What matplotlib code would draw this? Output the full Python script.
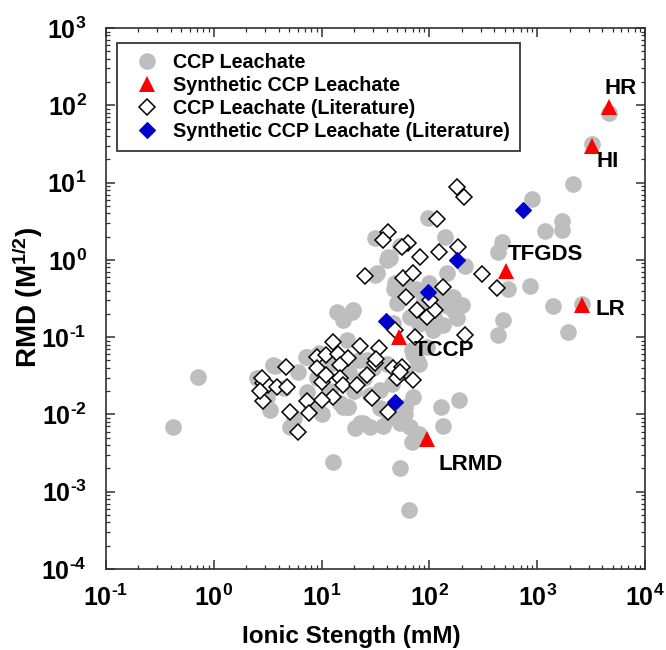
import matplotlib
matplotlib.use("Agg")
import matplotlib.pyplot as plt
from matplotlib.ticker import LogLocator, FuncFormatter, NullFormatter
import numpy as np

# ---------------- data ----------------
# CCP Leachate (grey circles): ionic strength (mM), RMD
ccp_x = [4670, 3245, 2162, 889, 1687, 1687, 1181, 469, 436, 857, 540, 1410, 2620, 1944,
         485, 436, 212, 145, 97.7, 140, 31.3, 43.1, 32.5, 49.8, 167, 199, 179, 135, 109,
         49.8, 66, 19.7, 94.4, 46.3, 53.8, 41.6, 48, 13.8, 19.0, 15.9, 17.1, 7.27, 3.56,
         2.5, 3.1, 3.32, 5.09, 7.27, 14.8, 17.7, 22.7, 28.1, 53.4, 66, 59.4, 71, 26.2,
         34.8, 76, 68.5, 0.718, 0.421, 12.7, 53, 64.4, 69.2, 135, 128, 190, 80, 37.5,
         24.3, 20.3, 15.7, 17.6, 60, 3.72, 7.12, 9.5, 120, 150, 170, 110, 130, 90, 75,
         60, 80, 100, 40.3, 31.3, 46.5, 12, 18, 25, 30, 22, 40, 45, 60, 70, 80, 28, 20,
         12, 9, 6, 4.5, 8, 10, 35, 42, 50, 2.9, 5.5]
ccp_y = [78.7, 31.7, 9.6, 6.14, 3.21, 2.44, 2.39, 1.72, 1.28, 0.459, 0.416, 0.253, 0.27,
         0.118, 0.167, 0.107, 0.84, 0.67, 3.45, 2.0, 1.90, 1.05, 0.67, 0.408, 0.334,
         0.261, 0.175, 0.144, 0.124, 0.274, 0.184, 0.225, 0.075, 0.151, 1.51, 1.10,
         0.498, 0.214, 0.214, 0.167, 0.092, 0.056, 0.0437, 0.0294, 0.017, 0.0114,
         0.00695, 0.0197, 0.014, 0.0126, 0.00767, 0.00695, 0.00767, 0.00695, 0.0126,
         0.017, 0.0507, 0.0207, 0.0507, 0.068, 0.0308, 0.00683, 0.00242, 0.00202,
         0.000575, 0.00435, 0.00702, 0.0126, 0.0156, 0.00566, 0.00702, 0.0078, 0.00665,
         0.0126, 0.0126, 0.0102, 0.0428, 0.0558, 0.062, 0.30, 0.25, 0.22, 0.18, 0.40,
         0.30, 0.42, 0.55, 0.15, 0.50, 0.986, 0.646, 0.42, 0.045, 0.035, 0.03, 0.04,
         0.05, 0.045, 0.025, 0.035, 0.06, 0.045, 0.018, 0.02, 0.02, 0.03, 0.035, 0.022,
         0.012, 0.01, 0.012, 0.009, 0.012, 0.02, 0.009]

# Synthetic CCP Leachate (red triangles)
syn_names = ["HR", "HI", "TFGDS", "LR", "TCCP", "LRMD"]
syn_x = [4670, 3245, 510, 2620, 52, 95.8]
syn_y = [94, 29.7, 0.724, 0.261, 0.10, 0.0048]
# label anchor positions (data units)
lab_x = [6000, 4510, 1181, 4810, 137, 241]
lab_y = [165, 18.6, 1.19, 0.225, 0.068, 0.00224]

# CCP Leachate (Literature) (open diamonds)
lit_x = [179, 209, 118, 41, 37.3, 63.7, 55.3, 81.8, 124, 185, 25.3, 57.3, 71, 135, 305,
         421, 60.7, 76.3, 94.4, 113, 101, 214, 12.7, 22.7, 34.3, 9.0, 11.1, 14.3, 17.7,
         14.8, 9.0, 10.0, 11.1, 14.8, 12.7, 15.7, 21.2, 26.2, 31.3, 46.3, 55.3, 49.8,
         71, 29.2, 41.6, 4.67, 2.88, 3.2, 3.83, 4.75, 2.88, 7.27, 7.69, 10.0, 5.09,
         6.08, 2.78, 48, 73, 2.7, 53, 32]
lit_y = [8.69, 6.46, 3.38, 2.32, 1.81, 1.67, 1.48, 1.10, 1.28, 1.45, 0.62, 0.578, 0.684,
         0.45, 0.658, 0.43, 0.334, 0.225, 0.184, 0.225, 0.303, 0.107, 0.0875, 0.0776,
         0.0718, 0.056, 0.0589, 0.060, 0.0533, 0.0437, 0.0395, 0.0265, 0.0324, 0.0294,
         0.017, 0.0241, 0.0241, 0.0324, 0.0459, 0.0395, 0.0415, 0.0294, 0.0279, 0.0162,
         0.0109, 0.0407, 0.0253, 0.0241, 0.0225, 0.0229, 0.0147, 0.0147, 0.0104, 0.0154,
         0.0109, 0.00598, 0.0294, 0.124, 0.10, 0.02, 0.035, 0.052]

# Synthetic CCP Leachate (Literature) (blue diamonds)
slit_x = [743, 179, 97.7, 39.6, 48]
slit_y = [4.4, 1.0, 0.38, 0.163, 0.0145]

x_ticks = [1e-1, 1e0, 1e1, 1e2, 1e3, 1e4]
y_ticks = [1e-4, 1e-3, 1e-2, 1e-1, 1e0, 1e1, 1e2, 1e3]

# ---------------- fonts ----------------
plt.rcParams["font.family"] = ["Liberation Sans", "DejaVu Sans"]
plt.rcParams["mathtext.fontset"] = "custom"
plt.rcParams["mathtext.rm"] = "Liberation Sans:bold"
plt.rcParams["mathtext.bf"] = "Liberation Sans:bold"
plt.rcParams["mathtext.it"] = "Liberation Sans:italic"

fig = plt.figure(figsize=(6.66, 6.5), dpi=100)
ax = fig.add_axes([106 / 666, 1 - 569 / 650, 539 / 666, 541 / 650])

ax.plot(ccp_x, ccp_y, linestyle="none", marker="o", markersize=12,
        color="#BEBEBE", markeredgewidth=0, label="CCP Leachate", zorder=2)
ax.plot(lit_x, lit_y, linestyle="none", marker="D", markersize=8.6,
        markerfacecolor="white", markeredgecolor="black", markeredgewidth=1.1,
        label="CCP Leachate (Literature)", zorder=3)
ax.plot(slit_x, slit_y, linestyle="none", marker="D", markersize=8.6,
        markerfacecolor="#0000CC", markeredgecolor="#0000CC", markeredgewidth=0.8,
        label="Synthetic CCP Leachate (Literature)", zorder=4)
ax.plot(syn_x, syn_y, linestyle="none", marker="^", markersize=11,
        color="#FF0000", markeredgewidth=0, label="Synthetic CCP Leachate", zorder=5)

for n, lx, ly in zip(syn_names, lab_x, lab_y):
    ax.text(lx, ly, n, ha="center", va="center", fontsize=16, fontweight="bold",
            zorder=6)

ax.set_xscale("log")
ax.set_yscale("log")
ax.set_xlim(x_ticks[0], x_ticks[-1])
ax.set_ylim(y_ticks[0], y_ticks[-1])
ax.set_xticks(x_ticks)
ax.set_yticks(y_ticks)
ax.xaxis.set_minor_locator(LogLocator(base=10, subs=np.arange(2, 10), numticks=20))
ax.yaxis.set_minor_locator(LogLocator(base=10, subs=np.arange(2, 10), numticks=20))
ax.xaxis.set_minor_formatter(NullFormatter())
ax.yaxis.set_minor_formatter(NullFormatter())


def dec_label(v, p):
    e = int(round(np.log10(v)))
    if e < 0:
        return r"$\mathbf{10^{\text{-}%d}}$" % (-e)
    return r"$\mathbf{10^{%d}}$" % e


fmt = FuncFormatter(dec_label)
ax.xaxis.set_major_formatter(fmt)
ax.yaxis.set_major_formatter(fmt)

ax.tick_params(which="both", direction="in", top=True, right=True, color="#303030")
ax.tick_params(which="major", length=6.5, width=1.1, labelsize=18)
ax.tick_params(which="minor", length=3.2, width=0.9)
ax.tick_params(axis="x", which="major", pad=11)
ax.tick_params(axis="y", which="major", pad=14)
for s in ax.spines.values():
    s.set_color("#303030")
    s.set_linewidth(1.2)

fig.text(351.6 / 666, 1 - 637 / 650, "Ionic Stength (mM)", ha="center", va="center",
         fontsize=17.5, fontweight="bold")
fig.text(28 / 666, 1 - 297 / 650, r"RMD (M$^{\mathbf{1/2}}$)", rotation=90,
         ha="center", va="center", fontsize=20, fontweight="bold")

h, l = ax.get_legend_handles_labels()
order = [0, 3, 1, 2]
leg = ax.legend([h[i] for i in order], [l[i] for i in order], loc="upper left",
                bbox_to_anchor=((117 - 106) / 539, (569 - 43) / 541),
                borderaxespad=0, frameon=True, fancybox=False, framealpha=1,
                edgecolor="#444444", prop={"weight": "bold", "size": 14.2},
                borderpad=0.5, labelspacing=0.2, handlelength=2.0,
                handletextpad=0.35, numpoints=1)
leg.get_frame().set_linewidth(1.4)
leg.set_zorder(10)

fig.savefig("out.png", dpi=100)
